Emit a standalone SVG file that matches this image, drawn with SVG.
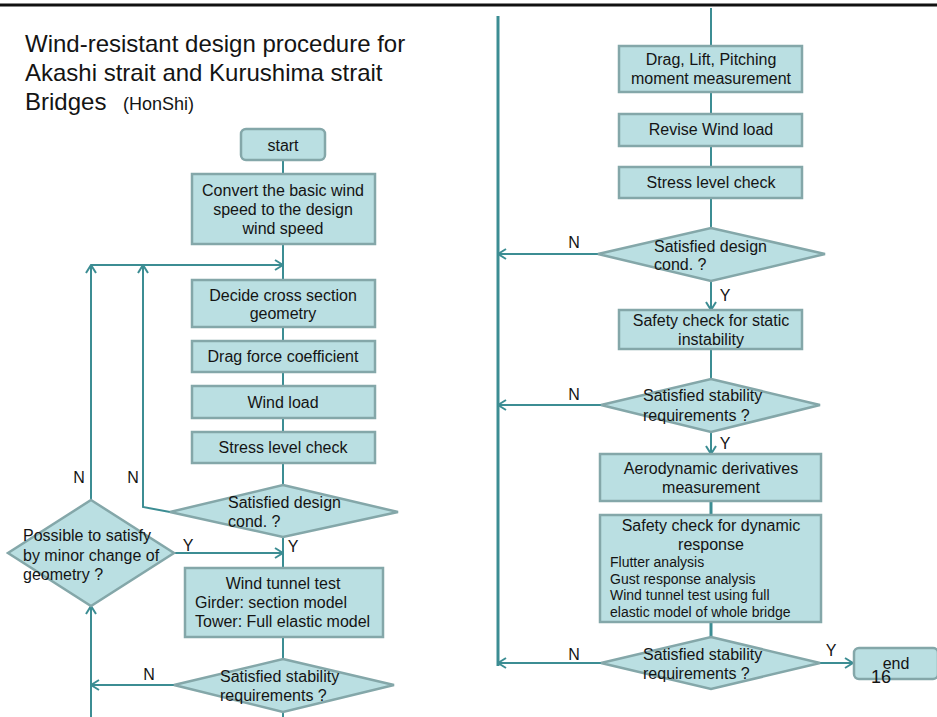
<svg xmlns="http://www.w3.org/2000/svg" width="937" height="717" viewBox="0 0 937 717">
<defs>
<style>
text{font-family:"Liberation Sans",Arial,sans-serif;fill:#141414}
.t{font-size:16px}
.c{text-anchor:middle}
.s{font-size:14px}
.box{fill:#badfe2;stroke:#84a7a9;stroke-width:2.5}
.con line,.con polyline{stroke:#3c8d93;stroke-width:2;fill:none}
</style>
<marker id="ah" viewBox="0 0 10 12" refX="9" refY="6" markerWidth="10" markerHeight="12" markerUnits="userSpaceOnUse" orient="auto">
<path d="M1,1 L9,6 L1,11" fill="none" stroke="#3c8d93" stroke-width="2"/>
</marker>
</defs>
<rect width="937" height="717" fill="#ffffff"/>
<line x1="0" y1="5" x2="937" y2="5" stroke="#111" stroke-width="3"/>
<g id="title">
<text x="25" y="52" font-size="24">Wind-resistant design procedure for</text>
<text x="25" y="81" font-size="24">Akashi strait and Kurushima strait</text>
<text x="25" y="110" font-size="24">Bridges <tspan font-size="18" dx="10">(HonShi)</tspan></text>
</g>
<g class="con" id="connectors">
<line x1="283" y1="160" x2="283" y2="174"/>
<line x1="283" y1="244" x2="283" y2="280"/>
<line x1="283" y1="327" x2="283" y2="341"/>
<line x1="283" y1="372" x2="283" y2="386"/>
<line x1="283" y1="418" x2="283" y2="432"/>
<line x1="283" y1="463" x2="283" y2="485"/>
<line x1="283" y1="537" x2="283" y2="568"/>
<line x1="283" y1="637" x2="283" y2="659"/>
<line x1="283" y1="712" x2="283" y2="717"/>
<polyline points="170,512 143,507 143,265" marker-end="url(#ah)"/>
<line x1="91" y1="500" x2="91" y2="265" marker-end="url(#ah)"/>
<line x1="91" y1="265" x2="283" y2="265" marker-end="url(#ah)"/>
<line x1="174" y1="553" x2="283" y2="553" marker-end="url(#ah)"/>
<line x1="174" y1="685" x2="91" y2="685" marker-end="url(#ah)"/>
<line x1="91" y1="717" x2="91" y2="606" marker-end="url(#ah)"/>
<line x1="711" y1="8" x2="711" y2="46"/>
<line x1="711" y1="92" x2="711" y2="114"/>
<line x1="711" y1="146" x2="711" y2="167"/>
<line x1="711" y1="198" x2="711" y2="228"/>
<line x1="711" y1="281" x2="711" y2="310" marker-end="url(#ah)"/>
<line x1="711" y1="349" x2="711" y2="379"/>
<line x1="711" y1="432" x2="711" y2="454" marker-end="url(#ah)"/>
<line x1="711" y1="501" x2="711" y2="515" style="stroke-width:3"/>
<line x1="711" y1="622" x2="711" y2="637" style="stroke-width:3"/>
<line x1="498" y1="16" x2="498" y2="666" style="stroke-width:3"/>
<line x1="598" y1="254" x2="498" y2="254" marker-end="url(#ah)"/>
<line x1="601" y1="405" x2="498" y2="405" marker-end="url(#ah)"/>
<line x1="601" y1="663" x2="498" y2="663" marker-end="url(#ah)"/>
<line x1="820" y1="663" x2="853" y2="663" marker-end="url(#ah)"/>
</g>
<g id="labels" class="t">
<text class="t" x="79" y="483" text-anchor="middle">N</text>
<text class="t" x="133" y="483" text-anchor="middle">N</text>
<text class="t" x="188" y="551" text-anchor="middle">Y</text>
<text class="t" x="293" y="552" text-anchor="middle">Y</text>
<text class="t" x="149" y="680" text-anchor="middle">N</text>
<text class="t" x="574" y="248" text-anchor="middle">N</text>
<text class="t" x="725" y="301" text-anchor="middle">Y</text>
<text class="t" x="574" y="400" text-anchor="middle">N</text>
<text class="t" x="725" y="449" text-anchor="middle">Y</text>
<text class="t" x="574" y="660" text-anchor="middle">N</text>
<text class="t" x="831" y="656" text-anchor="middle">Y</text>
</g>
<g id="start">
<rect class="box" x="241" y="129" width="84" height="31" rx="5"/>
<text class="t c" x="283" y="151">start</text>
</g>
<g id="convert">
<rect class="box" x="192" y="174" width="183" height="70"/>
<text class="t c" x="283" y="196">Convert the basic wind</text>
<text class="t c" x="283" y="215">speed to the design</text>
<text class="t c" x="283" y="234">wind speed</text>
</g>
<g id="decide">
<rect class="box" x="192" y="280" width="183" height="47"/>
<text class="t c" x="283" y="301">Decide cross section</text>
<text class="t c" x="283" y="319">geometry</text>
</g>
<g id="drag">
<rect class="box" x="192" y="341" width="183" height="31"/>
<text class="t c" x="283" y="362">Drag force coefficient</text>
</g>
<g id="windload">
<rect class="box" x="192" y="386" width="183" height="32"/>
<text class="t c" x="283" y="408">Wind load</text>
</g>
<g id="stress1">
<rect class="box" x="192" y="432" width="183" height="31"/>
<text class="t c" x="283" y="453">Stress level check</text>
</g>
<g id="design1">
<polygon class="box" points="283,485 398,512 283,537 170,512"/>
<text class="t" x="228" y="508">Satisfied design</text>
<text class="t" x="228" y="527">cond. ?</text>
</g>
<g id="possible">
<polygon class="box" points="91,500 174,553 91,606 8,553"/>
<text class="t" x="23" y="541">Possible to satisfy</text>
<text class="t" x="23" y="561">by minor change of</text>
<text class="t" x="23" y="580">geometry ?</text>
</g>
<g id="tunnel">
<rect class="box" x="185" y="568" width="198" height="69"/>
<text class="t c" x="283" y="589">Wind tunnel test</text>
<text class="t" x="195" y="608">Girder: section model</text>
<text class="t" x="195" y="627">Tower: Full elastic model</text>
</g>
<g id="stab1">
<polygon class="box" points="283,659 394,685 283,712 174,685"/>
<text class="t" x="220" y="682">Satisfied stability</text>
<text class="t" x="220" y="701">requirements ?</text>
</g>
<g id="dlp">
<rect class="box" x="619" y="46" width="183" height="46"/>
<text class="t c" x="711" y="65">Drag, Lift, Pitching</text>
<text class="t c" x="711" y="84">moment measurement</text>
</g>
<g id="revise">
<rect class="box" x="619" y="114" width="183" height="32"/>
<text class="t c" x="711" y="135">Revise Wind load</text>
</g>
<g id="stress2">
<rect class="box" x="619" y="167" width="183" height="31"/>
<text class="t c" x="711" y="188">Stress level check</text>
</g>
<g id="design2">
<polygon class="box" points="711,228 825,254 711,281 598,254"/>
<text class="t" x="654" y="252">Satisfied design</text>
<text class="t" x="654" y="270">cond. ?</text>
</g>
<g id="static">
<rect class="box" x="619" y="310" width="183" height="39"/>
<text class="t c" x="711" y="326">Safety check for static</text>
<text class="t c" x="711" y="345">instability</text>
</g>
<g id="stab2">
<polygon class="box" points="711,379 820,405 711,432 601,405"/>
<text class="t" x="643" y="401">Satisfied stability</text>
<text class="t" x="643" y="421">requirements ?</text>
</g>
<g id="aero">
<rect class="box" x="600" y="454" width="221" height="47"/>
<text class="t c" x="711" y="474">Aerodynamic derivatives</text>
<text class="t c" x="711" y="493">measurement</text>
</g>
<g id="dynamic">
<rect class="box" x="600" y="515" width="221" height="107"/>
<text class="t c" x="711" y="531">Safety check for dynamic</text>
<text class="t c" x="711" y="550">response</text>
<text class="s" x="610" y="567">Flutter analysis</text>
<text class="s" x="610" y="584">Gust response analysis</text>
<text class="s" x="610" y="600">Wind tunnel test using full</text>
<text class="s" x="610" y="617">elastic model of whole bridge</text>
</g>
<g id="stab3">
<polygon class="box" points="711,637 820,663 711,689 601,663"/>
<text class="t" x="643" y="660">Satisfied stability</text>
<text class="t" x="643" y="679">requirements ?</text>
</g>
<g id="end">
<rect class="box" x="854" y="648" width="84" height="31" rx="5"/>
<text class="t c" x="896" y="669">end</text>
</g>
<text x="871" y="683" font-size="18">16</text>
</svg>
